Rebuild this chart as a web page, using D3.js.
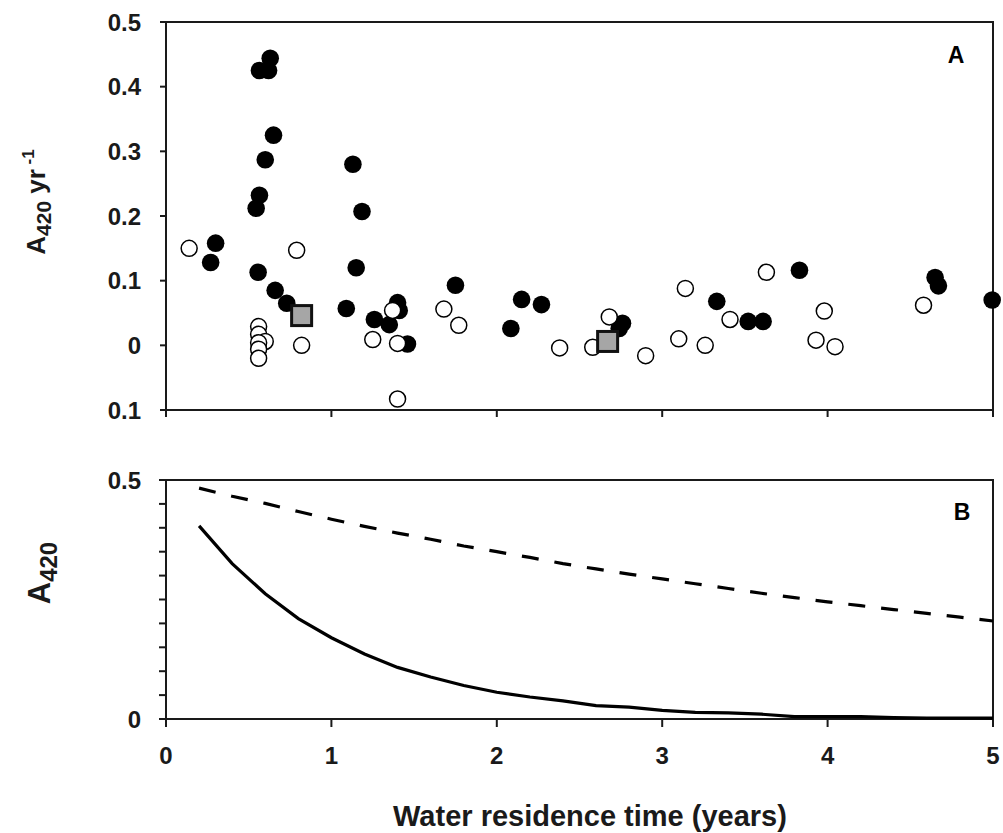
<!DOCTYPE html>
<html>
<head>
<meta charset="utf-8">
<script src="https://cdn.jsdelivr.net/npm/d3@7"></script>
<style>
  body { margin: 0; background: #fff; }
  svg { display: block; font-family: "Liberation Sans", Arial, sans-serif; font-weight: bold; }
</style>
</head>
<body>
<svg id="chart" width="1003" height="833"></svg>
<script>
// Panel A: filled circles [residence time, A420 yr-1]
const filledPts = [
  [0.63, 0.444], [0.565, 0.425], [0.62, 0.425], [0.65, 0.325], [0.60, 0.287],
  [0.565, 0.232], [0.545, 0.212], [0.30, 0.158], [0.27, 0.128], [0.557, 0.113],
  [0.66, 0.085], [0.73, 0.065],
  [1.13, 0.280], [1.185, 0.207], [1.15, 0.120], [1.09, 0.057], [1.26, 0.040],
  [1.35, 0.032], [1.40, 0.066], [1.41, 0.054], [1.46, 0.002], [1.75, 0.093],
  [2.085, 0.026], [2.15, 0.071], [2.27, 0.063], [2.76, 0.034], [2.74, 0.026],
  [3.33, 0.068], [3.52, 0.037], [3.61, 0.037], [3.83, 0.116], [4.65, 0.105],
  [4.67, 0.092], [4.995, 0.070]
];
// Panel A: open circles
const openPts = [
  [0.14, 0.150], [0.79, 0.147], [0.56, 0.029], [0.56, 0.017], [0.60, 0.006],
  [0.56, 0.004], [0.56, -0.006], [0.56, -0.020], [0.82, 0.0],
  [1.37, 0.054], [1.25, 0.009], [1.40, 0.003], [1.40, -0.083], [1.68, 0.056],
  [1.77, 0.031],
  [2.38, -0.004], [2.58, -0.003], [2.68, 0.044], [2.90, -0.016], [3.14, 0.088],
  [3.10, 0.010], [3.26, 0.0], [3.41, 0.040], [3.63, 0.113], [3.98, 0.053],
  [3.93, 0.008], [4.045, -0.002], [4.58, 0.062]
];
// Panel A: grey squares
const squarePts = [[0.82, 0.046], [2.67, 0.006]];

// Panel B curves
const curveT = [0.2, 0.4, 0.6, 0.8, 1.0, 1.2, 1.4, 1.6, 1.8, 2.0, 2.2, 2.4, 2.6,
  2.8, 3.0, 3.2, 3.4, 3.6, 3.8, 4.0, 4.2, 4.4, 4.6, 4.8, 5.0];
const solidA420 = [0.404, 0.325, 0.262, 0.210, 0.170, 0.136, 0.108, 0.088, 0.070,
  0.056, 0.046, 0.038, 0.028, 0.025, 0.018, 0.014, 0.013, 0.010, 0.005, 0.005,
  0.005, 0.003, 0.002, 0.002, 0.002];
const dashedA420 = [0.483, 0.466, 0.451, 0.434, 0.418, 0.403, 0.389, 0.376, 0.362,
  0.350, 0.338, 0.325, 0.314, 0.303, 0.293, 0.283, 0.273, 0.263, 0.254, 0.245,
  0.237, 0.229, 0.221, 0.213, 0.205];

const xTicks = [0, 1, 2, 3, 4, 5];
const yTicksA = [0.5, 0.4, 0.3, 0.2, 0.1, 0, -0.1];
const yTickLabelsA = ["0.5", "0.4", "0.3", "0.2", "0.1", "0", "0.1"];
const yTicksB = d3.range(0, 11).map(i => i * 0.05);
const yLabelsB = [0, 0.5];

const svg = d3.select("#chart");
const ink = "#1a1a1a";
const left = 166, right = 993;
const aTop = 22, aBot = 410, bTop = 480, bBot = 719;
const tickFs = 24;

const x = d3.scaleLinear([0, 5], [left, right]);
const yA = d3.scaleLinear([-0.1, 0.5], [aBot, aTop]);
const yB = d3.scaleLinear([0, 0.5], [bBot, bTop]);

// ---- Panel A frame + ticks
svg.append("rect").attr("x", left).attr("y", aTop).attr("width", right - left).attr("height", aBot - aTop)
  .attr("fill", "none").attr("stroke", ink).attr("stroke-width", 2);

const gA = svg.append("g");
yTicksA.forEach((t, i) => {
  gA.append("line").attr("x1", left - 6).attr("x2", left).attr("y1", yA(t)).attr("y2", yA(t))
    .attr("stroke", ink).attr("stroke-width", 2);
  gA.append("text").attr("x", 141).attr("y", yA(t) + 8.5).attr("text-anchor", "end")
    .attr("font-size", tickFs).attr("fill", ink).text(yTickLabelsA[i]);
});
xTicks.forEach(t => {
  gA.append("line").attr("x1", x(t)).attr("x2", x(t)).attr("y1", aBot).attr("y2", aBot + 7)
    .attr("stroke", ink).attr("stroke-width", 2);
});

// markers
gA.selectAll("circle.filled").data(filledPts).join("circle").attr("class", "filled")
  .attr("cx", d => x(d[0])).attr("cy", d => yA(d[1])).attr("r", 8.8).attr("fill", "#000");
gA.selectAll("circle.open").data(openPts).join("circle").attr("class", "open")
  .attr("cx", d => x(d[0])).attr("cy", d => yA(d[1])).attr("r", 8)
  .attr("fill", "#fff").attr("stroke", "#000").attr("stroke-width", 1.5);
gA.selectAll("rect.sq").data(squarePts).join("rect").attr("class", "sq")
  .attr("x", d => x(d[0]) - 10).attr("y", d => yA(d[1]) - 10).attr("width", 20).attr("height", 20)
  .attr("fill", "#a6a6a6").attr("stroke", "#111").attr("stroke-width", 3);

svg.append("text").attr("x", 956).attr("y", 63).attr("text-anchor", "middle")
  .attr("font-size", 23).attr("fill", "#000").text("A");

// Y label A
const labA = svg.append("text").attr("transform", "translate(45,202) rotate(-90)")
  .attr("text-anchor", "middle").attr("font-size", 26).attr("fill", ink);
labA.append("tspan").text("A");
labA.append("tspan").attr("font-size", 21).attr("dy", 6).text("420");
labA.append("tspan").attr("dy", -6).text(" yr");
labA.append("tspan").attr("font-size", 17).attr("dy", -11).text(" -1");

// ---- Panel B
svg.append("rect").attr("x", left).attr("y", bTop).attr("width", right - left).attr("height", bBot - bTop)
  .attr("fill", "none").attr("stroke", ink).attr("stroke-width", 2);
const gB = svg.append("g");
yTicksB.forEach(t => {
  gB.append("line").attr("x1", left - 7).attr("x2", left).attr("y1", yB(t)).attr("y2", yB(t))
    .attr("stroke", ink).attr("stroke-width", 2);
});
yLabelsB.forEach(t => {
  gB.append("text").attr("x", 141).attr("y", yB(t) + 8.5).attr("text-anchor", "end")
    .attr("font-size", tickFs).attr("fill", ink).text(String(t));
});
xTicks.forEach(t => {
  gB.append("line").attr("x1", x(t)).attr("x2", x(t)).attr("y1", bBot).attr("y2", bBot + 8)
    .attr("stroke", ink).attr("stroke-width", 2);
  gB.append("text").attr("x", x(t)).attr("y", 764).attr("text-anchor", "middle")
    .attr("font-size", tickFs).attr("fill", ink).text(t);
});

const line = d3.line().x(d => x(d[0])).y(d => yB(d[1]));
gB.append("path").attr("d", line(curveT.map((t, i) => [t, dashedA420[i]])))
  .attr("fill", "none").attr("stroke", "#000").attr("stroke-width", 3.2).attr("stroke-dasharray", "17,16");
gB.append("path").attr("d", line(curveT.map((t, i) => [t, solidA420[i]])))
  .attr("fill", "none").attr("stroke", "#000").attr("stroke-width", 3.2);

svg.append("text").attr("x", 962).attr("y", 520).attr("text-anchor", "middle")
  .attr("font-size", 23).attr("fill", "#000").text("B");

// Y label B
const labB = svg.append("text").attr("transform", "translate(50,573) rotate(-90)")
  .attr("text-anchor", "middle").attr("font-size", 31).attr("fill", ink);
labB.append("tspan").text("A");
labB.append("tspan").attr("font-size", 24).attr("dy", 7).text("420");

// X title
svg.append("text").attr("x", 590).attr("y", 826).attr("text-anchor", "middle")
  .attr("font-size", 29).attr("fill", ink).text("Water residence time (years)");
</script>
</body>
</html>
